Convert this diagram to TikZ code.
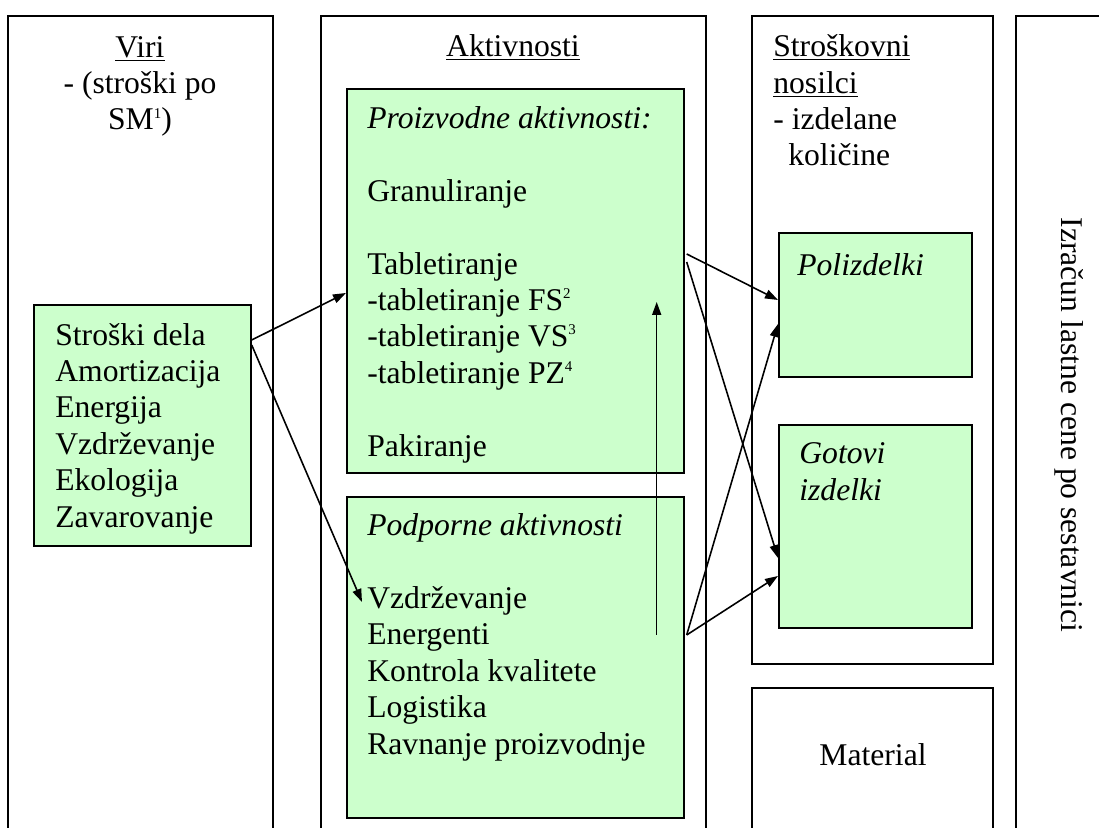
\documentclass[tikz,border=0pt]{standalone}
\usepackage{fontspec}
\setmainfont{Liberation Serif}
\usetikzlibrary{arrows.meta}
\definecolor{palegreen}{HTML}{CCFFCC}
\newcommand\notenum[1]{\raisebox{6.8pt}{\fontsize{8.5}{8.5}\selectfont #1}}

\begin{document}
\begin{tikzpicture}
    [x=0.02cm, y=-0.02cm,
    frame/.style={line width=1.1pt},
    greenbox/.style={draw, line width=1pt, fill=palegreen, inner sep=0pt, anchor=north west},
    txt/.style={inner sep=0pt, font=\fontsize{18}{20.7}\selectfont},
    flow/.style={-{Triangle[length=2.6mm,width=1.8mm]}, line width=0.9pt}]

    \useasboundingbox (0,0) rectangle (1099,828);

    % drawing the column frames
    \draw[frame] (8,835) -- (8,16) -- (273,16) -- (273,835);
    \draw[frame] (321,835) -- (321,16) -- (706,16) -- (706,835);
    \draw[frame] (752,16) rectangle (993,664);
    \draw[frame] (752,835) -- (752,688) -- (993,688) -- (993,835);
    \draw[frame] (1016,835) -- (1016,16) -- (1105,16);

    % drawing the green boxes
    \node[greenbox, minimum width=4.34cm, minimum height=4.82cm] (virbox) at (33,304) {};
    \node[greenbox, minimum width=6.74cm, minimum height=7.68cm] (proizvodne) at (346,88) {};
    \node[greenbox, minimum width=6.74cm, minimum height=6.42cm] (podporne) at (346,496) {};
    \node[greenbox, minimum width=3.86cm, minimum height=2.88cm] (polizdelki) at (778,232) {};
    \node[greenbox, minimum width=3.86cm, minimum height=4.06cm] (gotovi) at (778,424) {};

    % drawing the column titles (base = last line)
    \node[txt, anchor=base, align=center] (viri) at (140,130) {\underline{Viri}\\- (stroški po\\SM\notenum{1})};
    \node[txt, anchor=base] (aktivnosti) at (513,57) {\underline{Aktivnosti}};
    \node[txt, anchor=base west, align=left] (nosilci) at (773,166) {\underline{Stroškovni}\\\underline{nosilci}\\- izdelane\\\hspace*{0.3cm}količine};
    \node[txt] (material) at (873,755) {Material};
    \node[txt, rotate=-90] (izracun) at (1069,425) {Izračun lastne cene po sestavnici};

    % drawing the box contents
    \node[txt, anchor=base west, align=left] (viritext) at (55,527) {Stroški dela\\Amortizacija\\Energija\\Vzdrževanje\\Ekologija\\Zavarovanje};
    \node[txt, anchor=base west, align=left] (proizvodnetext) at (367,456) {\textit{Proizvodne aktivnosti:}\\[\baselineskip]Granuliranje\\[\baselineskip]Tabletiranje\\-tabletiranje FS\notenum{2}\\-tabletiranje VS\notenum{3}\\-tabletiranje PZ\notenum{4}\\[\baselineskip]Pakiranje};
    \node[txt, anchor=base west, align=left] (podpornetext) at (367,754) {\textit{Podporne aktivnosti}\\[\baselineskip]Vzdrževanje\\Energenti\\Kontrola kvalitete\\Logistika\\Ravnanje proizvodnje};
    \node[txt, anchor=base west] (polizdelkitext) at (797,275) {\textit{Polizdelki}};
    \node[txt, anchor=base west, align=left] (gotovitext) at (799,500) {\textit{Gotovi}\\\textit{izdelki}};

    % drawing the flows
    \coordinate (podout) at ([xshift=0.04cm,yshift=-2.78cm]podporne.north east);
    \draw[flow] ([yshift=-0.72cm]virbox.north east) -- ([yshift=-4.1cm]proizvodne.north west);
    \draw[flow] ([yshift=-0.82cm]virbox.north east) -- ([xshift=0.32cm,yshift=-2.12cm]podporne.north west);
    \draw[flow] ([xshift=0.04cm,yshift=-3.32cm]proizvodne.north east) -- ([yshift=-1.36cm]polizdelki.north west);
    \draw[flow] ([xshift=0.04cm,yshift=-3.48cm]proizvodne.north east) -- ([yshift=-2.68cm]gotovi.north west);
    \draw[flow] ([xshift=-0.56cm,yshift=-2.78cm]podporne.north east) -- ([xshift=-0.56cm,yshift=-4.28cm]proizvodne.north east);
    \draw[flow] (podout) -- ([yshift=-1.84cm]polizdelki.north west);
    \draw[flow] (podout) -- ([yshift=-3.04cm]gotovi.north west);

\end{tikzpicture}
\end{document}
